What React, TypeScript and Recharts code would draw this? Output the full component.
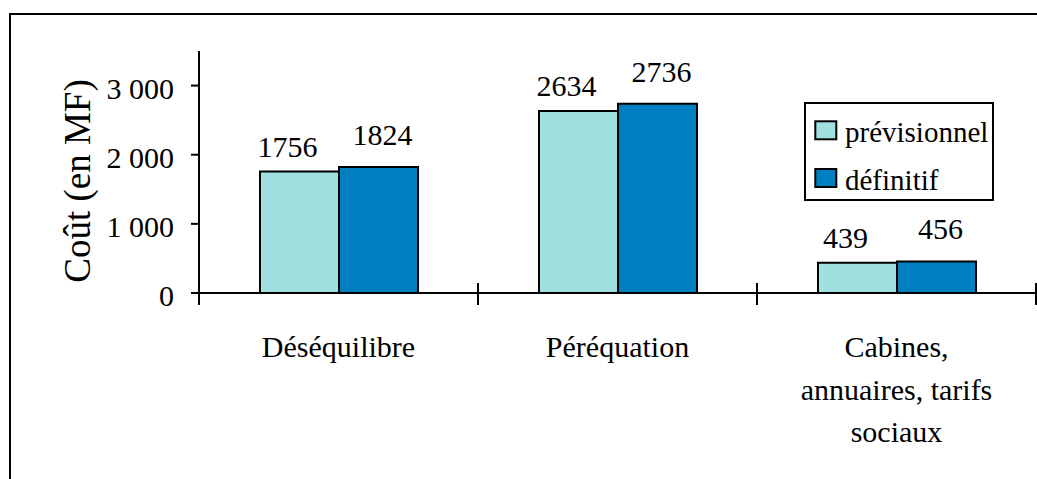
import { Bar, BarChart, Label, LabelList, XAxis, YAxis } from "recharts";

const categories = ["Déséquilibre", "Péréquation", "Cabines,\nannuaires, tarifs\nsociaux"];
const previsionnel = [1756, 2634, 439];
const definitif = [1824, 2736, 456];
const yTicks = [0, 1000, 2000, 3000];

const series = [
  { key: "previsionnel", name: "prévisionnel", color: "#a0e0e0" },
  { key: "definitif", name: "définitif", color: "#0080c0" },
];

const data = categories.map((name, i) => ({
  name,
  previsionnel: previsionnel[i],
  definitif: definitif[i],
}));

const SERIF = '"Liberation Serif", "Times New Roman", serif';
const INK = "#000";

const CHART_W = 1030;
const CHART_H = 464;
const Y_AXIS_W = 188;
const MARGIN = { top: 36, right: 5, bottom: 0, left: 0 };
const BAND = (CHART_W - Y_AXIS_W - MARGIN.right - MARGIN.left) / categories.length;

function formatThousands(v: number) {
  return String(v).replace(/\B(?=(\d{3})+(?!\d))/g, " ");
}

function YTick(props: any) {
  const { x, y, payload } = props;
  return (
    <text x={x} y={y + 13} textAnchor="end" fontSize={30} fontFamily={SERIF} fill={INK}>
      {formatThousands(payload.value)}
    </text>
  );
}

// Excel-style category axis: tick marks cross the axis between categories
function CategoryTick(props: any) {
  const { x, y, payload, index, visibleTicksCount } = props;
  const lines = String(payload.value).split("\n");
  const left = x - BAND / 2;
  const right = x + BAND / 2;
  return (
    <g>
      <line x1={left} x2={left} y1={y - 10} y2={y + 12} stroke={INK} strokeWidth={2} />
      {index === visibleTicksCount - 1 && (
        <line x1={right} x2={right} y1={y - 10} y2={y + 12} stroke={INK} strokeWidth={2} />
      )}
      <text x={x} y={y + 64} textAnchor="middle" fontSize={30} fontFamily={SERIF} fill={INK}>
        {lines.map((line, i) => (
          <tspan key={i} x={x} dy={i === 0 ? 0 : 42.5}>
            {line}
          </tspan>
        ))}
      </text>
    </g>
  );
}

function AxisTitle(props: any) {
  const { viewBox } = props;
  const cx = 79;
  const cy = viewBox.y + viewBox.height / 2 + 9;
  return (
    <text
      x={cx}
      y={cy}
      transform={`rotate(-90 ${cx} ${cy})`}
      textAnchor="middle"
      fontSize={37}
      fontFamily={SERIF}
      fill={INK}
    >
      Coût (en MF)
    </text>
  );
}

const valueLabel = (dx: number, lift: number) => (props: any) => {
  const { x, y, width, value } = props;
  return (
    <text
      x={Number(x) + Number(width) / 2 + dx}
      y={Number(y) - lift}
      textAnchor="middle"
      fontSize={30}
      fontFamily={SERIF}
      fill={INK}
    >
      {value}
    </text>
  );
};

function LegendBox() {
  return (
    <svg
      width={190}
      height={99}
      style={{ position: "absolute", left: 793, top: 87, overflow: "visible" }}
    >
      <rect x={1} y={1} width={188} height={97} fill="#fff" stroke={INK} strokeWidth={2} />
      {series.map((s, i) => (
        <g key={s.key} transform={`translate(0 ${i * 47.7})`}>
          <rect x={11.3} y={19.3} width={21} height={18} fill={s.color} stroke={INK} strokeWidth={2} />
          <text x={41} y={40} fontSize={29} fontFamily={SERIF} fill={INK}>
            {s.name}
          </text>
        </g>
      ))}
    </svg>
  );
}

export default function App() {
  return (
    <div
      style={{
        position: "fixed",
        left: 9,
        top: 13,
        width: 1028,
        height: 466,
        borderLeft: `2px solid ${INK}`,
        borderTop: `2px solid ${INK}`,
        boxSizing: "border-box",
        overflow: "hidden",
        background: "#fff",
      }}
    >
      <div style={{ position: "relative", width: CHART_W, height: CHART_H }}>
        <BarChart
          width={CHART_W}
          height={CHART_H}
          data={data}
          margin={MARGIN}
          barCategoryGap={61}
          barGap={0}
        >
          <XAxis
            dataKey="name"
            height={186}
            interval={0}
            axisLine={{ stroke: INK, strokeWidth: 2 }}
            tickLine={false}
            tickSize={0}
            tickMargin={0}
            tick={<CategoryTick />}
          />
          <YAxis
            width={Y_AXIS_W}
            domain={[0, 3500]}
            ticks={yTicks}
            interval={0}
            axisLine={{ stroke: INK, strokeWidth: 2 }}
            tickLine={{ stroke: INK, strokeWidth: 2 }}
            tickSize={8}
            tickMargin={17}
            tick={<YTick />}
          >
            <Label content={<AxisTitle />} />
          </YAxis>
          {series.map((s, i) => (
            <Bar
              key={s.key}
              dataKey={s.key}
              name={s.name}
              fill={s.color}
              stroke={INK}
              strokeWidth={2}
              isAnimationActive={false}
            >
              <LabelList
                dataKey={s.key}
                content={i === 0 ? valueLabel(-12, 15) : valueLabel(4, 22)}
              />
            </Bar>
          ))}
        </BarChart>
        <LegendBox />
      </div>
    </div>
  );
}
